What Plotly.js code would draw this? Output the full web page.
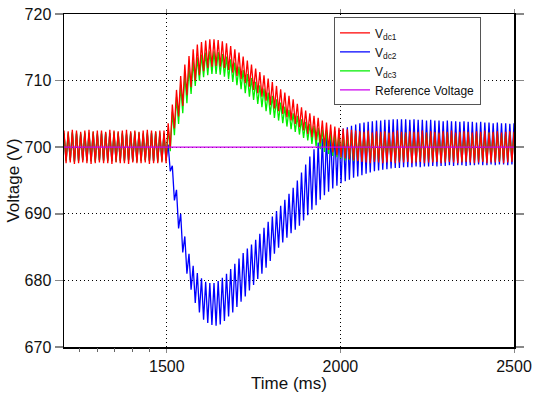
<!DOCTYPE html>
<html>
<head>
<meta charset="utf-8">
<script src="https://cdn.plot.ly/plotly-3.0.1.min.js"></script>
<style>html,body{margin:0;padding:0;background:#fff;}#chart{width:540px;height:393px;}</style>
</head>
<body>
<div id="chart"></div>
<script>
// Start time (ms) of each ripple cycle; each cycle goes peak -> trough
const cycleStart = [1204,1216,1228,1240,1252,1264,1276,1288,1300,1312,1324,1336,1348,1360,1372,1384,1396,1408,1420,1432,1444,1456,1468,1480,1492,
1504,1516,1528,1540,1552,1564,1576,1588,1600,1612,1624,1636,1648,1660,1672,1684,1696,1708,1720,1732,1744,1756,1768,1780,1792,1804,1816,1828,1840,1852,1864,1876,1888,1900,1912,1924,1936,1948,1960,1972,1984,1996,
2008,2020,2032,2044,2056,2068,2080,2092,2104,2116,2128,2140,2152,2164,2176,2188,2200,2212,2224,2236,2248,2260,2272,2284,2296,2308,2320,2332,2344,2356,2368,2380,2392,2404,2416,2428,2440,2452,2464,2476,2488,2500];
const halfCycle = 6;

// Vdc1 (red): per-cycle peak / trough (V)
const vdc1Peak = [702.5,702.4,702.6,702.5,702.3,702.5,702.6,702.4,702.5,702.5,702.3,702.6,702.5,702.4,702.5,702.6,702.4,702.5,702.3,702.5,702.6,702.5,702.4,702.5,702.5,
703.6,706.4,708.6,710.7,712.4,713.7,714.7,715.4,715.8,716.0,716.2,716.2,716.1,715.9,715.6,715.2,714.7,714.2,713.6,713.0,712.4,711.8,711.3,710.8,710.3,709.8,709.2,708.7,708.2,707.7,707.2,706.5,706.0,705.5,705.1,704.7,704.4,704.0,703.7,703.4,703.1,702.9,702.8,702.7,702.6,702.5,
702.4,702.3,702.5,702.2,702.4,702.3,702.4,702.2,702.3,702.5,702.3,702.2,702.4,702.3,702.3,702.5,702.2,702.4,702.3,702.2,702.4,702.3,702.5,702.2,702.3,702.4,702.3,702.2,702.4,702.3,702.5,702.2,702.3,702.4,702.2,702.3,702.4,702.3];
const vdc1Trough = [697.6,697.7,697.5,697.6,697.7,697.6,697.5,697.6,697.7,697.6,697.6,697.5,697.7,697.6,697.6,697.5,697.7,697.6,697.6,697.7,697.5,697.6,697.6,697.7,697.6,
699.8,702.8,704.6,706.2,707.8,709.0,710.0,710.8,711.4,711.9,712.1,712.2,712.1,711.9,711.6,711.2,710.7,710.2,709.6,709.1,708.6,708.1,707.6,707.0,706.3,705.8,705.4,705.0,704.5,704.0,703.5,703.0,702.5,702.0,701.5,701.1,700.6,700.1,699.6,699.2,698.8,698.5,698.3,698.2,698.0,697.9,
697.8,697.7,697.6,697.8,697.7,697.6,697.7,697.8,697.6,697.7,697.7,697.8,697.6,697.7,697.8,697.6,697.7,697.7,697.8,697.6,697.7,697.8,697.7,697.6,697.7,697.8,697.7,697.6,697.7,697.8,697.6,697.7,697.7,697.8,697.6,697.7,697.8,697.7];

// Vdc2 (blue)
const vdc2Peak = [702.0,701.9,702.1,702.0,701.9,702.0,702.1,702.0,701.9,702.0,702.0,702.1,701.9,702.0,702.0,701.9,702.1,702.0,702.0,701.9,702.0,702.1,702.0,701.9,702.0,
700.4,697.2,693.6,690.0,686.6,684.0,682.2,681.1,680.3,679.8,679.6,679.6,679.9,680.4,681.0,681.7,682.5,683.3,684.1,684.8,685.4,686.1,687.0,687.9,688.8,689.6,690.4,691.2,692.1,693.0,693.9,695.0,696.2,697.4,698.6,699.7,700.7,701.3,701.7,702.1,702.4,702.6,702.8,703.0,703.2,703.4,703.6,703.7,703.8,703.9,704.0,704.0,704.1,704.1,704.2,704.2,704.2,704.2,
704.1,704.2,704.1,704.1,704.0,704.1,704.0,704.0,703.9,704.0,703.9,703.9,703.8,703.9,703.8,703.8,703.7,703.8,703.7,703.7,703.6,703.7,703.6,703.6,703.5,703.6];
const vdc2Trough = [698.0,698.1,697.9,698.0,698.1,698.0,697.9,698.0,698.1,698.0,698.0,697.9,698.1,698.0,698.0,698.1,697.9,698.0,698.0,698.1,698.0,697.9,698.0,698.1,698.0,
696.4,692.0,687.8,684.2,681.0,678.6,676.6,675.2,674.1,673.6,673.3,673.2,673.4,673.9,674.6,675.2,676.0,676.8,677.6,678.5,679.3,680.2,681.0,681.9,682.9,684.0,684.9,685.7,686.4,687.1,687.6,688.2,689.0,689.8,690.6,691.3,692.1,692.8,693.3,693.8,694.2,694.6,694.9,695.1,695.4,695.6,695.8,696.0,696.2,696.4,696.5,696.6,696.7,696.8,696.9,696.9,697.0,697.0,
697.0,697.1,697.0,697.1,697.1,697.2,697.1,697.2,697.2,697.3,697.2,697.3,697.3,697.2,697.3,697.3,697.4,697.3,697.3,697.4,697.3,697.4,697.4,697.3,697.4,697.4];

// Vdc3 (green)
const vdc3Peak = [702.1,702.2,702.3,702.2,702.1,702.2,702.2,702.3,702.1,702.2,702.2,702.1,702.3,702.2,702.2,702.1,702.2,702.3,702.2,702.1,702.2,702.2,702.3,702.2,702.1,
702.8,705.3,707.5,709.3,710.9,712.0,712.9,713.5,713.9,714.2,714.4,714.4,714.3,714.0,713.6,713.2,712.7,712.1,711.6,711.0,710.4,709.8,709.3,708.8,708.2,707.7,707.2,706.7,706.1,705.6,705.1,704.7,704.2,703.8,703.5,703.2,702.9,702.7,702.5,702.4,702.3,702.2,
702.1,702.0,702.2,702.1,702.1,702.0,702.2,702.1,702.0,702.1,702.2,702.1,702.0,702.1,702.1,702.2,702.0,702.1,702.1,702.0,702.2,702.1,702.1,702.0,702.1,702.2,702.1,702.0,702.1,702.1,702.2,702.0,702.1,702.1,702.0,702.2,702.1,702.1,702.0,702.1,702.2,702.1];
const vdc3Trough = [697.9,698.0,697.8,697.9,698.0,697.9,697.9,697.8,698.0,697.9,697.9,698.0,697.8,697.9,697.9,698.0,697.9,697.8,697.9,698.0,697.9,697.9,697.8,697.9,698.0,
699.4,701.8,703.5,705.1,706.6,708.0,709.2,710.0,710.5,710.8,711.0,711.0,710.9,710.6,710.2,709.8,709.3,708.7,708.1,707.6,707.1,706.5,706.0,705.4,704.9,704.4,704.0,703.6,703.1,702.7,702.3,701.9,701.4,701.0,700.5,700.1,699.7,699.3,699.0,698.7,698.5,698.3,
698.0,698.1,697.9,698.0,698.0,698.1,697.9,698.0,698.0,697.9,698.1,698.0,698.0,697.9,698.0,698.1,698.0,697.9,698.0,698.0,698.1,697.9,698.0,698.0,697.9,698.1,698.0,698.0,697.9,698.0,698.1,698.0,698.0,697.9,698.0,698.1,698.0,697.9,698.0,698.0,698.1,698.0];

// Reference voltage
const refTime = [1204, 2500];
const refVoltage = [700, 700];

const yTicks = [670, 680, 690, 700, 710, 720];
const xTicks = [1500, 2000, 2500];
const xMinorTicks = [1250, 1300, 1350, 1400, 1450];

function ripple(peaks, troughs) {
  const n = Math.min(cycleStart.length, peaks.length, troughs.length);
  const x = [], y = [];
  for (let i = 0; i < n; i++) {
    x.push(cycleStart[i]); y.push(peaks[i]);
    x.push(cycleStart[i] + halfCycle); y.push(troughs[i]);
  }
  return {x, y};
}

const r1 = ripple(vdc1Peak, vdc1Trough);
const r2 = ripple(vdc2Peak, vdc2Trough);
const r3 = ripple(vdc3Peak, vdc3Trough);

const traces = [
  {x: r2.x, y: r2.y, type: 'scatter', mode: 'lines', name: 'V<sub>dc2</sub>', legendrank: 2,
   line: {color: '#0000ff', width: 1.3}},
  {x: r3.x, y: r3.y, type: 'scatter', mode: 'lines', name: 'V<sub>dc3</sub>', legendrank: 3,
   line: {color: '#00ee00', width: 1.3}},
  {x: r1.x, y: r1.y, type: 'scatter', mode: 'lines', name: 'V<sub>dc1</sub>', legendrank: 1,
   line: {color: '#ff0000', width: 1.3}},
  {x: refTime, y: refVoltage, type: 'scatter', mode: 'lines', name: 'Reference Voltage', legendrank: 4,
   xaxis: 'x2', yaxis: 'y', line: {color: '#cc00ee', width: 1.2}}
];

const layout = {
  width: 540, height: 393,
  margin: {l: 64, r: 26, t: 14, b: 46},
  paper_bgcolor: '#ffffff', plot_bgcolor: '#ffffff',
  font: {family: 'Arial, "Liberation Sans", sans-serif', color: '#111', size: 16},
  showlegend: true,
  xaxis: {
    range: [1204, 2500], tickmode: 'array', tickvals: xTicks,
    ticks: 'outside', ticklen: 4, tickcolor: '#888', tickwidth: 1,
    showline: true, linecolor: '#000', linewidth: 1.5, mirror: 'ticks',
    showgrid: true, gridcolor: '#000', griddash: '1px,3px', gridwidth: 1,
    zeroline: false, tickfont: {size: 16},
    title: {text: 'Time (ms)', font: {size: 17}, standoff: 0}
  },
  xaxis2: {
    range: [1204, 2500], overlaying: 'x', anchor: 'y', side: 'bottom',
    tickmode: 'array', tickvals: xMinorTicks, ticks: 'outside', ticklen: 4,
    tickcolor: '#666', showticklabels: false, showline: false, showgrid: false, zeroline: false
  },
  yaxis: {
    range: [670, 720], tickmode: 'array', tickvals: yTicks,
    ticks: 'outside', ticklen: 8, tickcolor: '#888', tickwidth: 1.5,
    showline: true, linecolor: '#000', linewidth: 1.5, mirror: 'ticks',
    showgrid: true, gridcolor: '#000', griddash: '1px,3px', gridwidth: 1,
    zeroline: false, tickfont: {size: 16},
    title: {text: 'Voltage (V)', font: {size: 17}, standoff: 0}
  },
  legend: {
    x: 0.60, xanchor: 'left', y: 0.99, yanchor: 'top',
    bgcolor: '#ffffff', bordercolor: '#555', borderwidth: 1,
    font: {size: 12, color: '#111'}, tracegroupgap: 0, itemwidth: 30
  }
};

Plotly.newPlot('chart', traces, layout, {staticPlot: true, displayModeBar: false});
</script>
</body>
</html>
